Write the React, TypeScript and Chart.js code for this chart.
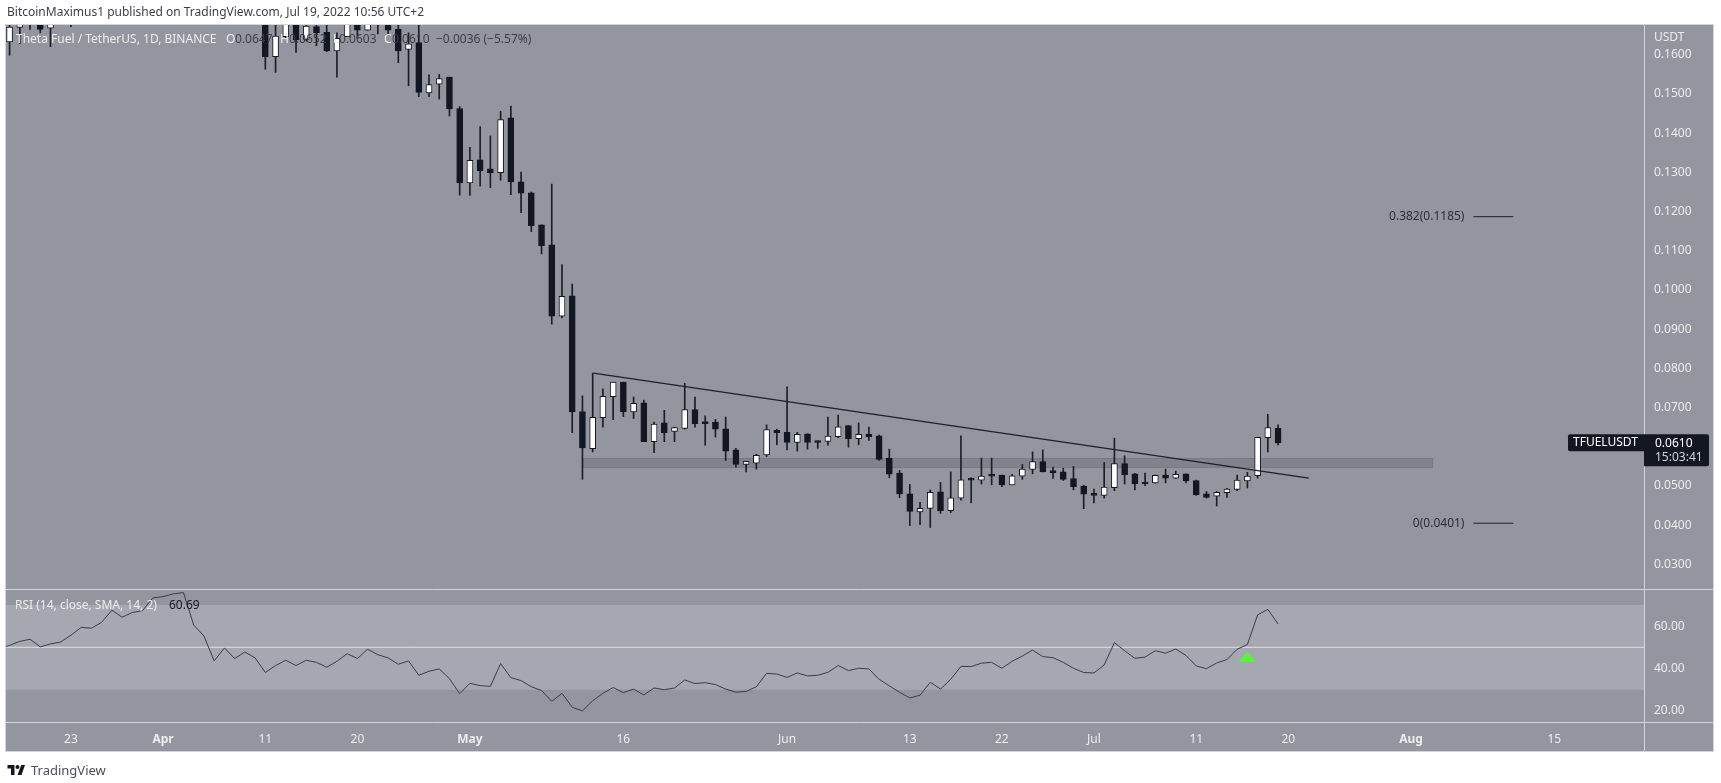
import React, { useEffect, useRef } from 'react';
import { Chart, registerables } from 'chart.js';

Chart.register(...registerables);

// days are counted from 1 Apr 2022 = 0
const candleDays = [-15, -14, -13, -12, -11, -9,
  10, 11, 12, 13, 14, 15, 16, 17, 18, 19, 20, 21, 22, 23, 24, 25, 26, 27, 28, 29,
  30, 31, 32, 33, 34, 35, 36, 37, 38, 39, 40, 41, 42, 43, 44, 45, 46, 47, 48, 49,
  50, 51, 52, 53, 54, 55, 56, 57, 58, 59, 60, 61, 62, 63, 64, 65, 66, 67, 68, 69,
  70, 71, 72, 73, 74, 75, 76, 77, 78, 79, 80, 81, 82, 83, 84, 85, 86, 87, 88, 89,
  90, 91, 92, 93, 94, 95, 96, 97, 98, 99, 100, 101, 102, 103, 104, 105, 106, 107, 108, 109];

const opens = [.1633, .1670, .1720, .1710, .1668, .1720,
  .1720, .1595, .1646, .1710, .1639, .1672, .1657, .1610, .1646, .1720, .1663, .1720, .1710, .1665, .1614, .1631, .1503, .1525, .1543, .1463,
  .1273, .1332, .1309, .1299, .1439, .1276, .1248, .1166, .1115, .0933, .0985, .0690, .0595, .0674, .0728, .0765, .0689, .0712, .0613, .0661,
  .0639, .0647, .0695, .0663, .0663, .0646, .0592, .0555, .0558, .0579, .0642, .0637, .0611, .0633, .0615, .0614, .0626, .0654, .0621, .0632,
  .0628, .0571, .0533, .0480, .0434, .0443, .0485, .0437, .0469, .0517, .0515, .0527, .0528, .0503, .0525, .0542, .0562, .0538, .0536, .0519,
  .0500, .0478, .0476, .0496, .0557, .0531, .0508, .0508, .0528, .0520, .0531, .0514, .0480, .0474, .0483, .0491, .0513, .0526, .0623, .0647];

const highs = [.1720, .1740, .1740, .1720, .1730, .1730,
  .1750, .1700, .1740, .1720, .1700, .1690, .1680, .1656, .1740, .1730, .1720, .1730, .1720, .1700, .1656, .1700, .1549, .1550, .1543, .1468,
  .1364, .1417, .1393, .1456, .1469, .1301, .1250, .1166, .1270, .1065, .1015, .0730, .0788, .0748, .0765, .0765, .0727, .0719, .0663, .0693,
  .0650, .0762, .0727, .0679, .0670, .0676, .0596, .0562, .0581, .0656, .0645, .0753, .0637, .0633, .0615, .0676, .0681, .0654, .0661, .0650,
  .0630, .0594, .0540, .0504, .0458, .0490, .0509, .0536, .0628, .0521, .0571, .0571, .0528, .0530, .0555, .0587, .0592, .0548, .0545, .0550,
  .0502, .0492, .0560, .0622, .0577, .0532, .0533, .0528, .0543, .0538, .0531, .0515, .0486, .0486, .0494, .0528, .0535, .0624, .0683, .0656];

const lows = [.1599, .1628, .1665, .1656, .1621, .1672,
  .1563, .1555, .1643, .1606, .1635, .1623, .1608, .1543, .1646, .1642, .1662, .1653, .1651, .1580, .1521, .1493, .1493, .1487, .1444, .1242,
  .1241, .1265, .1261, .1280, .1243, .1197, .1149, .1092, .0913, .0929, .0636, .0517, .0587, .0650, .0669, .0677, .0672, .0613, .0585, .0613,
  .0613, .0645, .0650, .0604, .0625, .0565, .0548, .0536, .0543, .0575, .0605, .0592, .0589, .0594, .0596, .0604, .0623, .0599, .0605, .0616,
  .0565, .0521, .0470, .0399, .0401, .0394, .0430, .0432, .0464, .0457, .0505, .0503, .0498, .0503, .0517, .0531, .0536, .0519, .0514, .0490,
  .0442, .0457, .0469, .0488, .0505, .0490, .0501, .0507, .0508, .0519, .0508, .0476, .0469, .0449, .0471, .0488, .0495, .0520, .0587, .0605];

const closes = [.1671, .1720, .1700, .1665, .1710, .1700,
  .1595, .1648, .1720, .1638, .1673, .1656, .1610, .1642, .1720, .1663, .1710, .1700, .1663, .1610, .1628, .1504, .1524, .1539, .1462, .1273,
  .1331, .1304, .1299, .1435, .1276, .1247, .1164, .1113, .0933, .0984, .0689, .0597, .0675, .0729, .0765, .0689, .0711, .0613, .0658, .0636,
  .0649, .0695, .0659, .0659, .0645, .0589, .0555, .0562, .0578, .0644, .0636, .0611, .0632, .0611, .0611, .0627, .0651, .0621, .0632, .0626,
  .0568, .0530, .0480, .0435, .0443, .0484, .0437, .0470, .0516, .0515, .0525, .0525, .0503, .0526, .0543, .0562, .0536, .0534, .0517, .0498,
  .0479, .0476, .0497, .0557, .0529, .0505, .0505, .0527, .0520, .0530, .0513, .0478, .0471, .0484, .0492, .0515, .0525, .0624, .0649, .0610];

// RSI starts one day before the first candle
const rsiFirstDay = -16;
const rsiValues = [49.4, 50.9, 52.8, 53.8, 50.2, 51.6, 52.5, 55.7, 59.4, 59.0, 61.8, 67.5, 64.2, 66.4, 67.3, 73.3,
  73.9, 75.2, 75.8, 60.5, 55.3, 43.6, 49.7, 44.7, 47.8, 45.0, 38.1, 41.4, 43.9, 41.4, 43.9, 42.9, 40.6, 43.4, 47.0, 44.7,
  49.1, 46.5, 45.0, 42.0, 43.6, 36.8, 38.7, 39.8, 35.2, 28.1, 33.0, 31.9, 31.6, 42.3, 35.7, 34.3, 31.4, 29.6, 24.5, 28.3,
  21.7, 20.0, 24.8, 28.3, 31.0, 28.6, 30.3, 27.5, 30.8, 30.0, 30.8, 34.6, 32.9, 33.3, 32.4, 30.3, 28.8, 29.2, 31.4, 37.7,
  37.4, 35.8, 37.9, 36.5, 36.8, 38.2, 41.4, 39.0, 40.1, 39.8, 34.9, 31.8, 28.8, 26.1, 27.4, 33.5, 30.3, 34.9, 41.0, 40.9,
  42.5, 42.9, 40.1, 43.4, 45.9, 48.7, 45.6, 45.1, 42.9, 40.1, 38.1, 37.9, 41.7, 52.2, 48.4, 44.8, 45.4, 48.4, 47.2, 49.2,
  46.1, 41.2, 39.9, 42.6, 44.2, 49.1, 51.3, 65.3, 67.9, 61.0];

const tickDays = [-9, 0, 10, 19, 30, 45, 61, 73, 82, 91, 101, 110, 122, 136];
const tickLabels = ['23', 'Apr', '11', '20', 'May', '16', 'Jun', '13', '22', 'Jul', '11', '20', 'Aug', '15'];
const boldTicks = ['Apr', 'May', 'Aug'];

const dayRange = [-15.35, 144.77];
const priceRange = [0.02372, 0.1676];
const rsiRange = [14.76, 77.5];

const trendDays = [42.07, 112];
const trendPrices = [0.0788, 0.052];
const zoneDays = [41.05, 124.1];
const zonePrices = [0.0547, 0.057];
const fibDays = [128.1, 132];
const fibLevels = [0.1187, 0.0405];
const fibLabels = ['0.382(0.1185)', '0(0.0401)'];
const signalDays = [105.1, 106, 106.9];
const signalRsi = [43.1, 47.9, 43.1];
const lastClose = 0.061;

const FONT = '"Noto Sans", sans-serif';
const PANEL = '#94969f';
const BAND = '#a5a8b1';
const EDGE = '#d4d6db';
const DARK = '#131722';
const LIGHT_TEXT = '#eceded';
const DIM_TEXT = '#3b3e48';

const overlayPlugin = {
  id: 'overlay',
  beforeDraw(chart: any) {
    const { ctx, chartArea, scales } = chart;
    const right = scales.y.right;
    const bottom = scales.x.bottom;
    ctx.save();
    ctx.fillStyle = PANEL;
    ctx.fillRect(chartArea.left, chartArea.top, right - chartArea.left, bottom - chartArea.top);
    ctx.restore();
  },
  afterDatasetsDraw(chart: any) {
    const { ctx, chartArea, scales } = chart;
    const { x, y, rsi } = scales;
    const right = y.right;
    const bottom = x.bottom;
    const text = (s: string, px: number, py: number, color: string, align: CanvasTextAlign = 'left') => {
      ctx.font = `12px ${FONT}`;
      ctx.fillStyle = color;
      ctx.textAlign = align;
      ctx.textBaseline = 'middle';
      ctx.fillText(s, px, py);
    };
    ctx.save();

    // pane edges
    ctx.strokeStyle = EDGE;
    ctx.lineWidth = 1;
    ctx.strokeRect(chartArea.left - 0.5, chartArea.top - 0.5, right - chartArea.left + 1, bottom - chartArea.top + 1);
    ctx.beginPath();
    ctx.moveTo(chartArea.left, y.bottom + 0.5);
    ctx.lineTo(right, y.bottom + 0.5);
    ctx.moveTo(chartArea.left, rsi.bottom + 0.5);
    ctx.lineTo(right, rsi.bottom + 0.5);
    ctx.moveTo(chartArea.right + 0.5, chartArea.top);
    ctx.lineTo(chartArea.right + 0.5, bottom);
    ctx.stroke();

    // legend row
    text('Theta Fuel / TetherUS, 1D, BINANCE', 16, 40, LIGHT_TEXT);
    text('O', 226, 40, LIGHT_TEXT);
    text('0.0647', 235, 40, DIM_TEXT);
    text('H', 280, 40, LIGHT_TEXT);
    text('0.0652', 289, 40, DIM_TEXT);
    text('L', 333, 40, LIGHT_TEXT);
    text('0.0603', 339, 40, DIM_TEXT);
    text('C', 384, 40, LIGHT_TEXT);
    text('0.0610', 392, 40, DIM_TEXT);
    text('\u22120.0036 (\u22125.57%)', 436, 40, DIM_TEXT);

    // rsi legend
    text('RSI (14, close, SMA, 14, 2)', 15, 606, LIGHT_TEXT);
    text('60.69', 169, 606, DARK);

    // fib labels
    fibLabels.forEach((label, i) => {
      text(label, x.getPixelForValue(fibDays[0]) - 9, y.getPixelForValue(fibLevels[i]), '#2b2e38', 'right');
    });

    // scale title and last price tag
    text('USDT', 1654, 38, LIGHT_TEXT);
    const tagY = y.getPixelForValue(lastClose);
    ctx.fillStyle = DARK;
    ctx.beginPath();
    ctx.roundRect(1568, tagY - 8.5, chartArea.right - 1568, 17, [2, 0, 0, 2]);
    ctx.fill();
    ctx.beginPath();
    ctx.roundRect(chartArea.right, tagY - 8.5, 65, 32, [0, 2, 2, 0]);
    ctx.fill();
    text('TFUELUSDT', 1573, tagY, '#ffffff');
    text(lastClose.toFixed(4), 1655, tagY + 1, '#ffffff');
    text('15:03:41', 1655, tagY + 15, '#d1d4dc');
    ctx.restore();
  },
};

const App: React.FC = () => {
  const canvasRef = useRef<HTMLCanvasElement>(null);

  useEffect(() => {
    if (!canvasRef.current) return;

    const lineBase = { type: 'line' as const, pointRadius: 0, tension: 0, xAxisID: 'x' };

    const chart = new Chart(canvasRef.current, {
      type: 'bar',
      data: {
        datasets: [
          // zone behind the candles
          {
            ...lineBase,
            yAxisID: 'y',
            order: 9,
            data: [
              { x: zoneDays[0], y: zonePrices[1] },
              { x: zoneDays[1], y: zonePrices[1] },
              { x: zoneDays[1], y: zonePrices[0] },
              { x: zoneDays[0], y: zonePrices[0] },
              { x: zoneDays[0], y: zonePrices[1] },
            ],
            borderColor: '#787a84',
            borderWidth: 1,
            backgroundColor: '#80828c',
            fill: 'shape',
          },
          // wicks
          {
            type: 'bar',
            yAxisID: 'y',
            order: 5,
            grouped: false,
            barThickness: 1,
            backgroundColor: '#1b1e29',
            borderWidth: 0,
            data: candleDays.map((d, i) => ({ x: d, y: [lows[i], highs[i]] })),
          },
          // down candles
          {
            type: 'bar',
            yAxisID: 'y',
            order: 4,
            grouped: false,
            barThickness: 6,
            minBarLength: 2,
            backgroundColor: DARK,
            borderColor: DARK,
            borderWidth: 1,
            borderSkipped: false,
            data: candleDays.flatMap((d, i) => (closes[i] < opens[i] ? [{ x: d, y: [closes[i], opens[i]] }] : [])),
          },
          // up candles
          {
            type: 'bar',
            yAxisID: 'y',
            order: 3,
            grouped: false,
            barThickness: 6,
            minBarLength: 3,
            backgroundColor: '#ffffff',
            borderColor: DARK,
            borderWidth: 1,
            borderSkipped: false,
            data: candleDays.flatMap((d, i) => (closes[i] >= opens[i] ? [{ x: d, y: [opens[i], closes[i]] }] : [])),
          },
          // trend line
          {
            ...lineBase,
            yAxisID: 'y',
            order: 2,
            data: trendDays.map((d, i) => ({ x: d, y: trendPrices[i] })),
            borderColor: '#1e2029',
            borderWidth: 1.2,
          },
          // fib levels
          ...fibLevels.map(level => ({
            ...lineBase,
            yAxisID: 'y',
            order: 2,
            data: fibDays.map(d => ({ x: d, y: level })),
            borderColor: '#1e2029',
            borderWidth: 1,
          })),
          // rsi band
          {
            ...lineBase,
            yAxisID: 'rsi',
            order: 9,
            data: [
              { x: dayRange[0], y: 70 },
              { x: dayRange[1], y: 70 },
              { x: dayRange[1], y: 30 },
              { x: dayRange[0], y: 30 },
              { x: dayRange[0], y: 70 },
            ],
            borderWidth: 0,
            backgroundColor: BAND,
            fill: 'shape',
          },
          // rsi midline
          {
            ...lineBase,
            yAxisID: 'rsi',
            order: 8,
            data: dayRange.map(d => ({ x: d, y: 50 })),
            borderColor: '#dfe0e4',
            borderWidth: 1,
          },
          // rsi line
          {
            ...lineBase,
            yAxisID: 'rsi',
            order: 2,
            data: rsiValues.map((v, i) => ({ x: rsiFirstDay + i, y: v })),
            borderColor: '#3a3d47',
            borderWidth: 1,
          },
          // breakout marker
          {
            ...lineBase,
            yAxisID: 'rsi',
            order: 1,
            data: signalDays.map((d, i) => ({ x: d, y: signalRsi[i] })),
            borderWidth: 0,
            backgroundColor: '#5bf13c',
            fill: 'shape',
          },
        ] as any,
      },
      options: {
        responsive: false,
        animation: false,
        events: [],
        layout: { padding: { left: 6, top: 25, right: 8, bottom: 32 } },
        plugins: { legend: { display: false }, tooltip: { enabled: false } },
        scales: {
          x: {
            type: 'linear',
            position: 'bottom',
            offset: false,
            min: dayRange[0],
            max: dayRange[1],
            grid: { display: false },
            border: { display: false },
            afterBuildTicks: (scale: any) => {
              scale.ticks = tickDays.map(value => ({ value }));
            },
            afterFit: (scale: any) => {
              scale.height = 29;
            },
            ticks: {
              autoSkip: false,
              maxRotation: 0,
              padding: 2,
              color: LIGHT_TEXT,
              font: (c: any) => {
                const label = tickLabels[tickDays.indexOf(c.tick?.value)];
                return { family: FONT, size: 12, weight: boldTicks.includes(label) ? 'bold' : 'normal' };
              },
              callback: (value: any) => tickLabels[tickDays.indexOf(Number(value))],
            },
          },
          y: {
            type: 'linear',
            position: 'right',
            stack: 'panes',
            stackWeight: 564,
            min: priceRange[0],
            max: priceRange[1],
            grid: { display: false },
            border: { display: false },
            afterFit: (scale: any) => {
              scale.width = 69;
            },
            ticks: {
              stepSize: 0.01,
              includeBounds: false,
              padding: 2,
              color: LIGHT_TEXT,
              font: { family: FONT, size: 12 },
              callback: (value: any) => Number(value).toFixed(4),
            },
          },
          rsi: {
            type: 'linear',
            position: 'right',
            stack: 'panes',
            stackWeight: 133,
            min: rsiRange[0],
            max: rsiRange[1],
            grid: { display: false },
            border: { display: false },
            afterFit: (scale: any) => {
              scale.width = 69;
            },
            ticks: {
              stepSize: 20,
              includeBounds: false,
              padding: 2,
              color: LIGHT_TEXT,
              font: { family: FONT, size: 12 },
              callback: (value: any) => Number(value).toFixed(2),
            },
          },
        },
      } as any,
      plugins: [overlayPlugin],
    });

    return () => {
      chart.destroy();
    };
  }, []);

  return (
    <div style={{ position: 'fixed', left: 0, top: 0, width: 1721, height: 783, background: '#ffffff', fontFamily: FONT, overflow: 'hidden' }}>
      <canvas ref={canvasRef} width={1721} height={783} style={{ display: 'block' }} />
      <div style={{ position: 'absolute', left: 7, top: 3, fontSize: 12, lineHeight: '18px', color: '#3b3e48', whiteSpace: 'nowrap' }}>
        BitcoinMaximus1 published on TradingView.com, Jul 19, 2022 10:56 UTC+2
      </div>
      <svg style={{ position: 'absolute', left: 6, top: 763 }} width="21" height="14" viewBox="0 0 36 28">
        <path d="M14 24H7V11H0V4h14v20z" fill="#131722" />
        <circle cx="20" cy="8" r="4" fill="#131722" />
        <path d="M28 24h-8l7.5-20H35L28 24z" fill="#131722" />
      </svg>
      <div style={{ position: 'absolute', left: 31, top: 761, fontSize: 13, lineHeight: '18px', color: '#4a4e5a', whiteSpace: 'nowrap' }}>
        TradingView
      </div>
    </div>
  );
};

export default App;
